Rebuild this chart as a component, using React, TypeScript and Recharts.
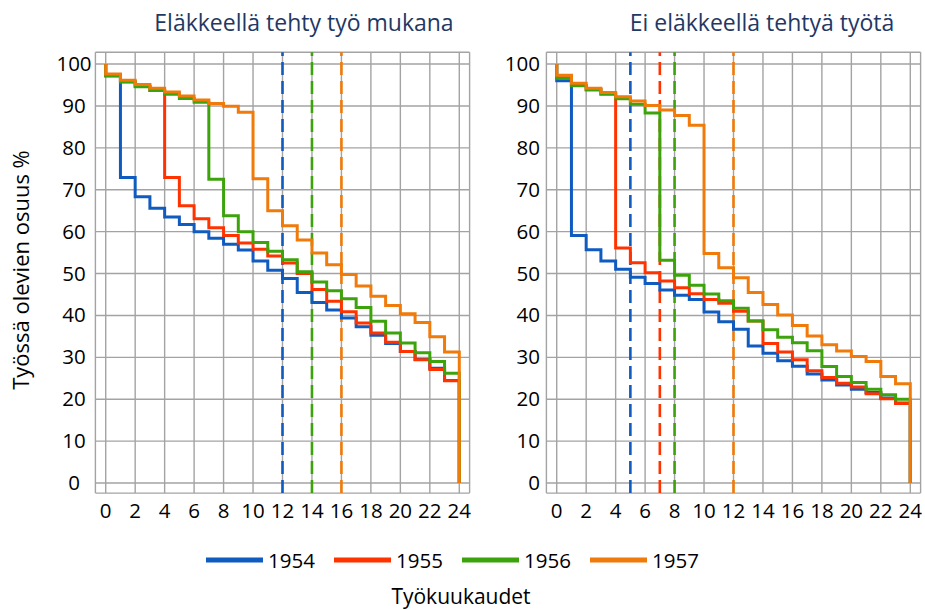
import React from 'react';
import { LineChart, Line, XAxis, YAxis, CartesianGrid, ReferenceLine } from 'recharts';

// ---- data ----
const seriesNames = ['1954', '1955', '1956', '1957'];
const seriesColors = ['#0F5BC0', '#FF3300', '#3DA30C', '#F07A0A'];

// month index of each step value: value holds on [m, m+1)
const months = [0, 1, 2, 3, 4, 5, 6, 7, 8, 9, 10, 11, 12, 13, 14, 15, 16, 17, 18, 19, 20, 21, 22, 23];
const startValue = 100;
const endMonth = 24;
const endValue = 0;

const xTicks = [0, 2, 4, 6, 8, 10, 12, 14, 16, 18, 20, 22, 24];
const yTicks = [0, 10, 20, 30, 40, 50, 60, 70, 80, 90, 100];

const leftTitle = 'Eläkkeellä tehty työ mukana';
const rightTitle = 'Ei eläkkeellä tehtyä työtä';
const yLabel = 'Työssä olevien osuus %';
const xLabel = 'Työkuukaudet';

// Left panel
const left1954 = [97.2, 72.9, 68.3, 65.6, 63.5, 61.7, 60.0, 58.4, 57.0, 55.6, 53.0, 50.8, 48.8, 45.5, 43.1, 41.3, 39.4, 37.3, 35.3, 33.3, 31.4, 29.5, 27.4, 24.5];
const left1955 = [97.2, 95.8, 94.7, 93.7, 72.9, 66.2, 63.1, 60.9, 59.1, 57.3, 55.8, 54.2, 52.5, 50.0, 46.2, 43.4, 40.9, 38.2, 35.8, 33.6, 31.4, 29.4, 27.1, 24.4];
const left1956 = [97.2, 95.7, 94.6, 93.7, 92.8, 91.8, 90.9, 72.5, 63.8, 60.0, 57.4, 55.3, 53.3, 50.4, 48.0, 45.9, 44.0, 41.9, 38.6, 35.8, 33.4, 31.1, 29.0, 26.2];
const left1957 = [97.6, 96.1, 95.1, 94.2, 93.3, 92.4, 91.4, 90.6, 89.9, 88.5, 72.6, 65.0, 61.4, 58.0, 54.9, 52.1, 49.8, 47.0, 44.6, 42.4, 40.4, 38.3, 34.9, 31.3];
const leftCutoffYears = ['1954', '1956', '1957'];
const leftCutoffMonths = [12, 14, 16];

// Right panel
const right1954 = [96.0, 59.1, 55.7, 53.0, 51.0, 49.1, 47.6, 46.1, 44.8, 43.8, 40.8, 38.5, 36.7, 32.7, 31.0, 29.2, 27.9, 26.0, 24.6, 23.4, 22.4, 21.6, 20.3, 19.1];
const right1955 = [96.7, 94.9, 93.9, 92.9, 56.1, 52.6, 50.2, 48.2, 46.6, 45.2, 43.8, 42.9, 41.0, 38.7, 33.3, 31.3, 29.4, 26.8, 25.2, 23.8, 22.9, 21.3, 20.1, 19.0];
const right1956 = [96.6, 94.8, 93.8, 92.8, 91.7, 90.4, 88.3, 53.2, 49.6, 47.2, 45.1, 43.5, 41.7, 38.7, 36.6, 34.8, 33.5, 31.6, 27.8, 25.4, 24.0, 22.4, 21.1, 20.0];
const right1957 = [97.3, 95.4, 94.2, 93.2, 92.2, 91.2, 90.1, 89.0, 87.7, 85.4, 54.8, 51.4, 49.0, 45.5, 42.6, 40.1, 37.6, 35.1, 33.0, 31.5, 30.2, 29.0, 25.4, 23.7];
const rightCutoffYears = ['1954', '1955', '1956', '1957'];
const rightCutoffMonths = [5, 7, 8, 12];

// ---- build rows ----
function buildRows(series: number[][]) {
  const rows: any[] = [];
  const first: any = { m: months[0] };
  seriesNames.forEach((n) => (first[n] = startValue));
  rows.push(first);
  months.forEach((m, k) => {
    const r: any = { m };
    seriesNames.forEach((n, i) => (r[n] = series[i][k]));
    rows.push(r);
  });
  const last: any = { m: endMonth };
  seriesNames.forEach((n) => (last[n] = endValue));
  rows.push(last);
  return rows;
}

const leftRows = buildRows([left1954, left1955, left1956, left1957]);
const rightRows = buildRows([right1954, right1955, right1956, right1957]);

const FONT = '"Open Sans", "Noto Sans", sans-serif';
const GRID = '#A3A3A3';

function Panel(props: {
  rows: any[];
  left: number;
  width: number;
  yAxisWidth: number;
  marginRight: number;
  yLabelX: number;
  yAnchor: 'middle' | 'end';
  cutYears: string[];
  cutMonths: number[];
}) {
  const { rows, left, width, yAxisWidth, marginRight, yLabelX, yAnchor, cutYears, cutMonths } = props;
  return (
    <div style={{ position: 'absolute', left, top: 0 }}>
      <LineChart
        width={width}
        height={530}
        data={rows}
        margin={{ top: 52.3, right: marginRight, bottom: 6.9, left: 0 }}
      >
        <CartesianGrid stroke={GRID} strokeWidth={1.4} />
        <XAxis
          dataKey="m"
          type="number"
          domain={[-0.7, 24.7]}
          ticks={xTicks}
          axisLine={false}
          tickLine={false}
          height={30}
          interval={0}
          tick={(p: any) => (
            <text x={p.x} y={518} textAnchor="middle" fontSize={20.5} fontFamily={FONT} fill="#000">
              {p.payload.value}
            </text>
          )}
        />
        <YAxis
          type="number"
          domain={[-2.4, 102.8]}
          ticks={yTicks}
          axisLine={false}
          tickLine={false}
          width={yAxisWidth}
          interval={0}
          tick={(p: any) => (
            <text x={yLabelX} y={p.y + 7} textAnchor={yAnchor} fontSize={20.5} fontFamily={FONT} fill="#000">
              {p.payload.value}
            </text>
          )}
        />
        {cutYears.map((yr, i) => (
          <ReferenceLine
            key={'c' + yr}
            x={cutMonths[i]}
            stroke={seriesColors[seriesNames.indexOf(yr)]}
            strokeWidth={2.6}
            strokeDasharray="13 6"
          />
        ))}
        {seriesNames.map((n, i) => (
          <Line
            key={n}
            dataKey={n}
            type="stepAfter"
            stroke={seriesColors[i]}
            strokeWidth={3}
            dot={false}
            activeDot={false}
            isAnimationActive={false}
          />
        ))}
      </LineChart>
    </div>
  );
}

export default function App() {
  return (
    <div style={{ position: 'absolute', left: 0, top: 0, width: 925, height: 610, background: '#fff', overflow: 'hidden' }}>
      <Panel
        rows={leftRows}
        left={0}
        width={475}
        yAxisWidth={95.4}
        marginRight={5.4}
        yLabelX={74}
        yAnchor="middle"
        cutYears={leftCutoffYears}
        cutMonths={leftCutoffMonths}
      />
      <Panel
        rows={rightRows}
        left={470}
        width={455}
        yAxisWidth={76.4}
        marginRight={4.4}
        yLabelX={70}
        yAnchor="end"
        cutYears={rightCutoffYears}
        cutMonths={rightCutoffMonths}
      />
      <svg width={925} height={610} style={{ position: 'absolute', left: 0, top: 0, pointerEvents: 'none' }}>
        <text x={304} y={31} textAnchor="middle" fontSize={23} fontFamily={FONT} fill="#1F3864">
          {leftTitle}
        </text>
        <text x={762} y={31} textAnchor="middle" fontSize={23} fontFamily={FONT} fill="#1F3864">
          {rightTitle}
        </text>
        <text
          x={0}
          y={0}
          transform="translate(29,270) rotate(-90)"
          textAnchor="middle"
          fontSize={22}
          fontFamily={FONT}
          fill="#000"
        >
          {yLabel}
        </text>
        {seriesNames.map((n, i) => (
          <g key={'lg' + n}>
            <line x1={206 + i * 128} x2={263 + i * 128} y1={560} y2={560} stroke={seriesColors[i]} strokeWidth={5} />
            <text x={268 + i * 128} y={568} fontSize={20.5} fontFamily={FONT} fill="#000">
              {n}
            </text>
          </g>
        ))}
        <text x={461} y={604} textAnchor="middle" fontSize={21} fontFamily={FONT} fill="#000">
          {xLabel}
        </text>
      </svg>
    </div>
  );
}
